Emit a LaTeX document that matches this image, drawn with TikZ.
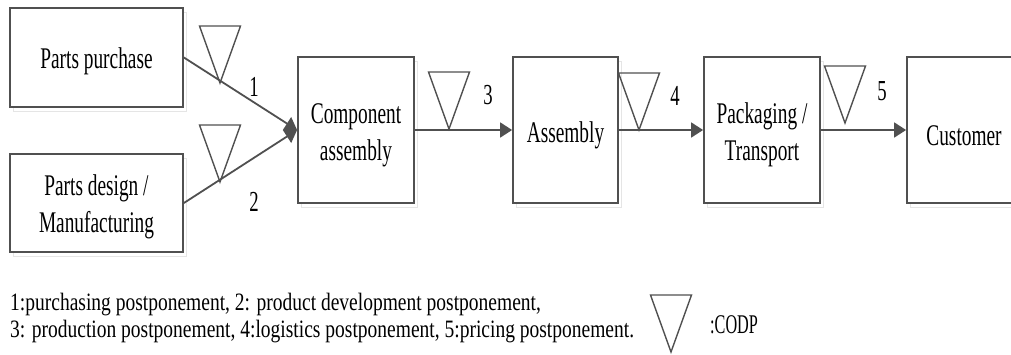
\documentclass[tikz,border=0pt]{standalone}
\usepackage{fontspec}
\setmainfont{Liberation Serif}
\newfontfamily\boxfont{Liberation Serif}[FakeStretch=0.645]
\newfontfamily\legfont{Liberation Serif}[FakeStretch=0.78]
\newfontfamily\codpfont{Liberation Serif}[FakeStretch=0.6]
\newcommand\boxstrut[1]{\rule{0pt}{#1}}
\usetikzlibrary{arrows.meta,shadows}
\definecolor{ln}{HTML}{505050}
\begin{document}
\begin{tikzpicture}[x=1pt,y=-1pt,
  box/.style={draw=ln, line width=1.8pt, fill=white, align=center, inner sep=0pt,
    font={\boxfont\fontsize{30}{37}\selectfont},
    general shadow={shadow xshift=3pt, shadow yshift=-4pt, draw=black!10, fill=none, line width=1pt}},
  flow/.style={draw=ln, line width=1.8pt, -{Triangle[length=12pt,width=15pt]}},
  num/.style={font={\boxfont\fontsize{29}{32}\selectfont}, inner sep=0pt},
  legtext/.style={anchor=base west, inner sep=0pt, font={\legfont\fontsize{25}{27}\selectfont}},
  codp/.pic={\draw[draw=ln, line width=1.4pt, line join=miter] (-20.5,-57) -- (20.5,-57) -- (0,0) -- cycle;}
]
\useasboundingbox (0,0) rectangle (1011,354);
\clip (0,0) rectangle (1011,354);

\node[box, minimum width=173pt, minimum height=99pt] (pp) at (96.5,57.5) {\boxstrut{28pt}Parts purchase};
\node[box, minimum width=173pt, minimum height=98pt] (pd) at (96.5,203) {\boxstrut{28pt}Parts design /\\Manufacturing};
\node[box, minimum width=116pt, minimum height=146pt] (ca) at (356,130) {\boxstrut{31pt}Component\\assembly};
\node[box, minimum width=105pt, minimum height=146pt] (as) at (565.5,130) {\boxstrut{31pt}Assembly};
\node[box, minimum width=116pt, minimum height=146pt] (pk) at (762,130) {\boxstrut{31pt}Packaging /\\Transport};
\node[box, minimum width=114pt, minimum height=146pt] (cu) at (964,130) {\boxstrut{31pt}Customer};

\draw[flow] (pp.east) -- (ca.west);
\draw[flow] (pd.east) -- (ca.west);
\draw[flow] (ca) -- (as);
\draw[flow] (as) -- (pk);
\draw[flow] (pk) -- (cu);

\pic at (220,83) {codp};
\pic at (220,182) {codp};
\pic at (449,129) {codp};
\pic at (639,130) {codp};
\pic at (845,123) {codp};

\node[num] (n1) at (254,87) {1};
\node[num] (n2) at (254,202) {2};
\node[num] (n3) at (488,95) {3};
\node[num] (n4) at (675,96) {4};
\node[num] (n5) at (882,91) {5};

\node[legtext] (l1) at (10,310) {1:purchasing postponement, 2: product development postponement,};
\node[legtext] (l2) at (10,337) {3: production postponement, 4:logistics postponement, 5:pricing postponement.};
\pic at (671,352) {codp};
\node[anchor=base west, inner sep=0pt, font={\codpfont\fontsize{27}{30}\selectfont}] (cd) at (710,333) {:CODP};
\end{tikzpicture}
\end{document}
